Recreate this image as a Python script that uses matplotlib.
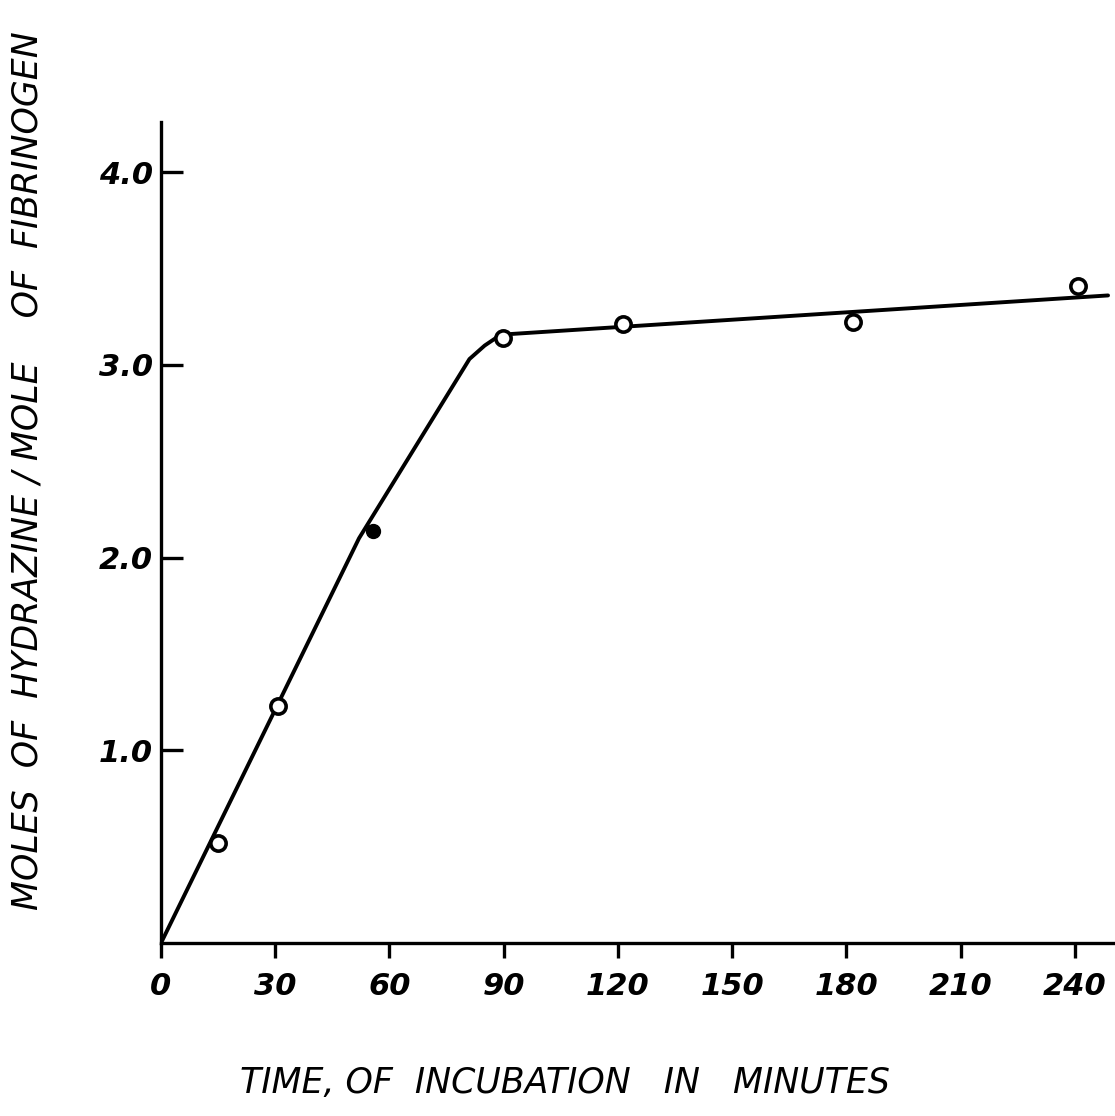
import numpy as np
import matplotlib.pyplot as plt

# measured points (minutes, moles hydrazine / mole fibrinogen)
time_min = [15, 30.7, 55.7, 89.8, 121.3, 181.7, 240.8]
moles = [0.52, 1.23, 2.14, 3.14, 3.21, 3.22, 3.41]

# hand drawn fitted curve
curve_x = [0, 52, 81, 85, 88, 92, 248.7]
curve_y = [0, 2.1, 3.03, 3.10, 3.14, 3.16, 3.36]

xticks = [0, 30, 60, 90, 120, 150, 180, 210, 240]
xtick_labels = ['0', '30', '60', '90', '120', '150', '180', '210', '240']
yticks = [1.0, 2.0, 3.0, 4.0]
ytick_labels = ['1.0', '2.0', '3.0', '4.0']

fig = plt.figure(figsize=(11.15, 11.16), dpi=100)
ax = fig.add_axes([0.1444, 0.155, 0.8538, 0.7357])

ax.plot(curve_x, curve_y, color='black', lw=2.8, solid_capstyle='round',
        solid_joinstyle='round', zorder=2)
ax.plot(time_min[:2] + time_min[3:], moles[:2] + moles[3:], 'o', ms=11,
        mfc='white', mec='black', mew=2.6, zorder=3)
ax.plot(time_min[2], moles[2], 'o', ms=10, mfc='black', mec='black', zorder=3)

ax.set_xlim(0, 250)
ax.set_ylim(0, 4.26)

for s in ['top', 'right']:
    ax.spines[s].set_visible(False)
for s in ['left', 'bottom']:
    ax.spines[s].set_linewidth(2.4)

font = dict(family='DejaVu Sans', style='italic', weight='bold')
ax.set_xticks(xticks)
ax.set_xticklabels(xtick_labels, fontsize=22, **font)
ax.set_yticks(yticks)
ax.set_yticklabels(ytick_labels, fontsize=22, **font)
ax.tick_params(axis='x', direction='out', length=11, width=2.4, pad=10)
ax.tick_params(axis='y', direction='in', length=16, width=2.4, pad=6)

fig.text(0.025, 0.578, 'MOLES  OF  HYDRAZINE / MOLE    OF  FIBRINOGEN', rotation=90,
         ha='center', va='center', fontsize=25, family='DejaVu Sans',
         style='italic')
fig.text(0.507, 0.03, 'TIME, OF  INCUBATION   IN   MINUTES', ha='center',
         va='center', fontsize=25, family='DejaVu Sans', style='italic')

fig.savefig('out.png', dpi=100)
